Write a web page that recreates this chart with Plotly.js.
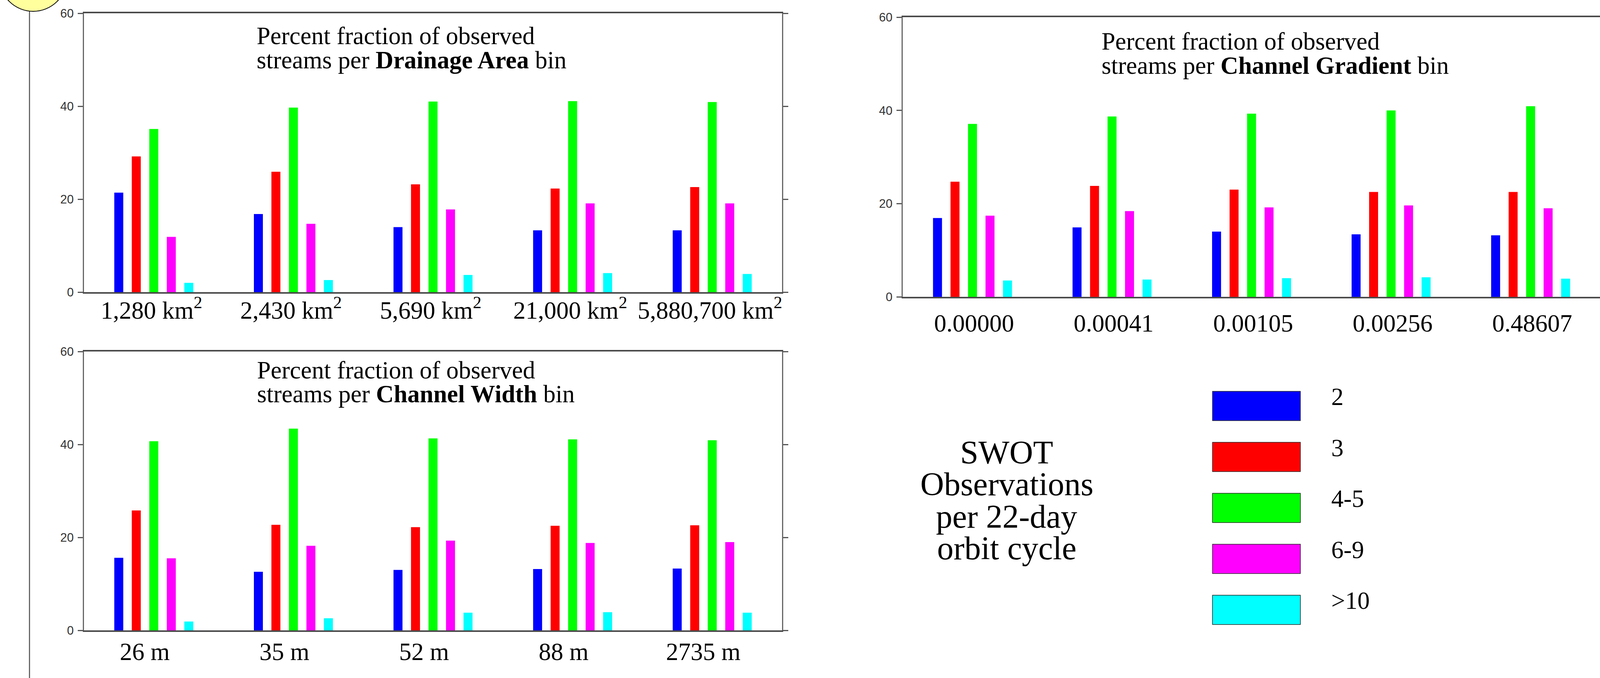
<!DOCTYPE html>
<html>
<head>
<meta charset="utf-8">
<script src="https://cdn.plot.ly/plotly-3.0.1.min.js"></script>
<style>html,body{margin:0;padding:0;background:#fff;}#chart{width:4137px;height:1736px;}</style>
</head>
<body>
<div id="chart"></div>
<script>
// ---------- data ----------
const seriesNames = ["2", "3", "4-5", "6-9", ">10"];
const seriesColors = ["#0000FF", "#FF0000", "#00FF00", "#FF00FF", "#00FFFF"];

const drainageLabels = ["1,280 km<sup>2</sup>", "2,430 km<sup>2</sup>", "5,690 km<sup>2</sup>", "21,000 km<sup>2</sup>", "5,880,700 km<sup>2</sup>"];
const drainObs2  = [21.4, 16.8, 14.0, 13.3, 13.3];
const drainObs3  = [29.2, 25.9, 23.2, 22.3, 22.6];
const drainObs45 = [35.1, 39.7, 41.0, 41.1, 40.9];
const drainObs69 = [11.9, 14.7, 17.8, 19.1, 19.1];
const drainObs10 = [2.0, 2.6, 3.7, 4.1, 3.9];

const widthLabels = ["26 m", "35 m", "52 m", "88 m", "2735 m"];
const widthObs2  = [15.6, 12.6, 13.0, 13.2, 13.3];
const widthObs3  = [25.8, 22.7, 22.2, 22.5, 22.6];
const widthObs45 = [40.7, 43.4, 41.3, 41.1, 40.9];
const widthObs69 = [15.5, 18.2, 19.3, 18.8, 19.0];
const widthObs10 = [1.9, 2.6, 3.8, 3.9, 3.8];

const gradLabels = ["0.00000", "0.00041", "0.00105", "0.00256", "0.48607"];
const gradObs2  = [16.9, 14.9, 14.0, 13.4, 13.2];
const gradObs3  = [24.7, 23.8, 23.0, 22.5, 22.5];
const gradObs45 = [37.1, 38.7, 39.3, 40.0, 40.9];
const gradObs69 = [17.4, 18.4, 19.2, 19.6, 19.0];
const gradObs10 = [3.5, 3.7, 4.0, 4.2, 3.9];

const yTickVals = [0, 20, 40, 60];
const panelTitles = [
  ["Percent fraction of observed", "streams per <b>Drainage Area</b> bin"],
  ["Percent fraction of observed", "streams per <b>Channel Width</b> bin"],
  ["Percent fraction of observed", "streams per <b>Channel Gradient</b> bin"]
];
const legendTitleLines = ["SWOT", "Observations", "per 22-day", "orbit cycle"];

// ---------- layout helpers ----------
const W = 4137, H = 1736;
const px = x => x / W;
const py = y => 1 - y / H;

const panels = [
  {ax: "", labels: drainageLabels, data: [drainObs2, drainObs3, drainObs45, drainObs69, drainObs10],
   x0: 215, x1: 2002, y0: 34, y1: 748, standoff: -12, shift: -6, tx: 655, t1: 92, t2: 154},
  {ax: "2", labels: widthLabels, data: [widthObs2, widthObs3, widthObs45, widthObs69, widthObs10],
   x0: 215, x1: 2002, y0: 900, y1: 1614, standoff: -4, shift: -23, tx: 656, t1: 948, t2: 1009},
  {ax: "3", labels: gradLabels, data: [gradObs2, gradObs3, gradObs45, gradObs69, gradObs10],
   x0: 2311, x1: 4097, y0: 44, y1: 760, standoff: 9, shift: 4, tx: 2818, t1: 106, t2: 168}
];

const traces = [];
const layout = {
  width: W, height: H,
  margin: {l: 0, r: 0, t: 0, b: 0, pad: 0},
  paper_bgcolor: "#ffffff", plot_bgcolor: "#ffffff",
  showlegend: false,
  barmode: "group",
  bargap: 0.373,
  bargroupgap: 0.487,
  shapes: [],
  annotations: []
};

panels.forEach((p, pi) => {
  p.data.forEach((vals, si) => {
    traces.push({
      type: "bar",
      x: [0, 1, 2, 3, 4],
      y: vals,
      name: seriesNames[si],
      marker: {color: seriesColors[si], line: {width: 0}},
      xaxis: "x" + p.ax, yaxis: "y" + p.ax,
      hoverinfo: "skip"
    });
  });
  layout["xaxis" + p.ax] = {
    domain: [px(p.x0), px(p.x1)],
    anchor: "y" + p.ax,
    range: [-0.5, 4.5],
    tickmode: "array",
    tickvals: [0, 1, 2, 3, 4],
    ticktext: p.labels,
    ticks: "",
    showgrid: false, zeroline: false,
    showline: true, linecolor: "#4a4a4a", linewidth: 4, mirror: true,
    tickfont: {family: "Liberation Serif", size: 63, color: "#000"},
    ticklabelstandoff: p.standoff,
    ticklabelshift: p.shift,
    fixedrange: true
  };
  layout["yaxis" + p.ax] = {
    domain: [py(p.y1), py(p.y0)],
    anchor: "x" + p.ax,
    range: [0, 60],
    tickmode: "array",
    tickvals: yTickVals,
    ticktext: yTickVals.map(String),
    ticks: "outside", ticklen: 13, tickwidth: 3, tickcolor: "#555",
    showgrid: false, zeroline: false,
    showline: true, linecolor: "#666", linewidth: 3, mirror: "ticks",
    tickfont: {family: "Liberation Sans", size: 31, color: "#333"},
    ticklabelstandoff: 4,
    fixedrange: true
  };
  layout.annotations.push({
    xref: "paper", yref: "paper", x: px(p.tx), y: py(p.t1),
    xanchor: "left", yanchor: "middle", showarrow: false,
    text: panelTitles[pi][0],
    font: {family: "Liberation Serif", size: 63, color: "#000"}
  });
  layout.annotations.push({
    xref: "paper", yref: "paper", x: px(p.tx), y: py(p.t2),
    xanchor: "left", yanchor: "middle", showarrow: false,
    text: panelTitles[pi][1],
    font: {family: "Liberation Serif", size: 63, color: "#000"}
  });
});

// custom legend
const boxX0 = 3104, boxX1 = 3329, boxTop0 = 1002, boxH = 75, boxStep = 130.5;
seriesNames.forEach((nm, i) => {
  const top = boxTop0 + i * boxStep;
  layout.shapes.push({
    type: "rect", xref: "paper", yref: "paper",
    x0: px(boxX0), x1: px(boxX1), y0: py(top + boxH), y1: py(top),
    fillcolor: seriesColors[i], line: {color: "#222", width: 1.5}
  });
  layout.annotations.push({
    xref: "paper", yref: "paper", x: px(3406), y: py(top + 14),
    xanchor: "left", yanchor: "middle", showarrow: false,
    text: nm,
    font: {family: "Liberation Serif", size: 63, color: "#000"}
  });
});
const swotMid = [1158, 1239, 1322, 1403];
legendTitleLines.forEach((t, i) => {
  layout.annotations.push({
    xref: "paper", yref: "paper", x: px(2577), y: py(swotMid[i]),
    xanchor: "center", yanchor: "middle", showarrow: false,
    text: t,
    font: {family: "Liberation Serif", size: 84, color: "#000"}
  });
});

// decorative left rule and yellow circle
layout.shapes.push({
  type: "line", xref: "paper", yref: "paper",
  x0: px(75.5), x1: px(75.5), y0: py(29), y1: 0,
  line: {color: "#666", width: 3}
});
layout.shapes.push({
  type: "circle", xref: "paper", yref: "paper",
  x0: px(-2), x1: px(172), y0: py(29), y1: py(-146),
  fillcolor: "#FFFF9E", line: {color: "#000", width: 2}
});

Plotly.newPlot("chart", traces, layout, {displayModeBar: false, staticPlot: true});
</script>
</body>
</html>
